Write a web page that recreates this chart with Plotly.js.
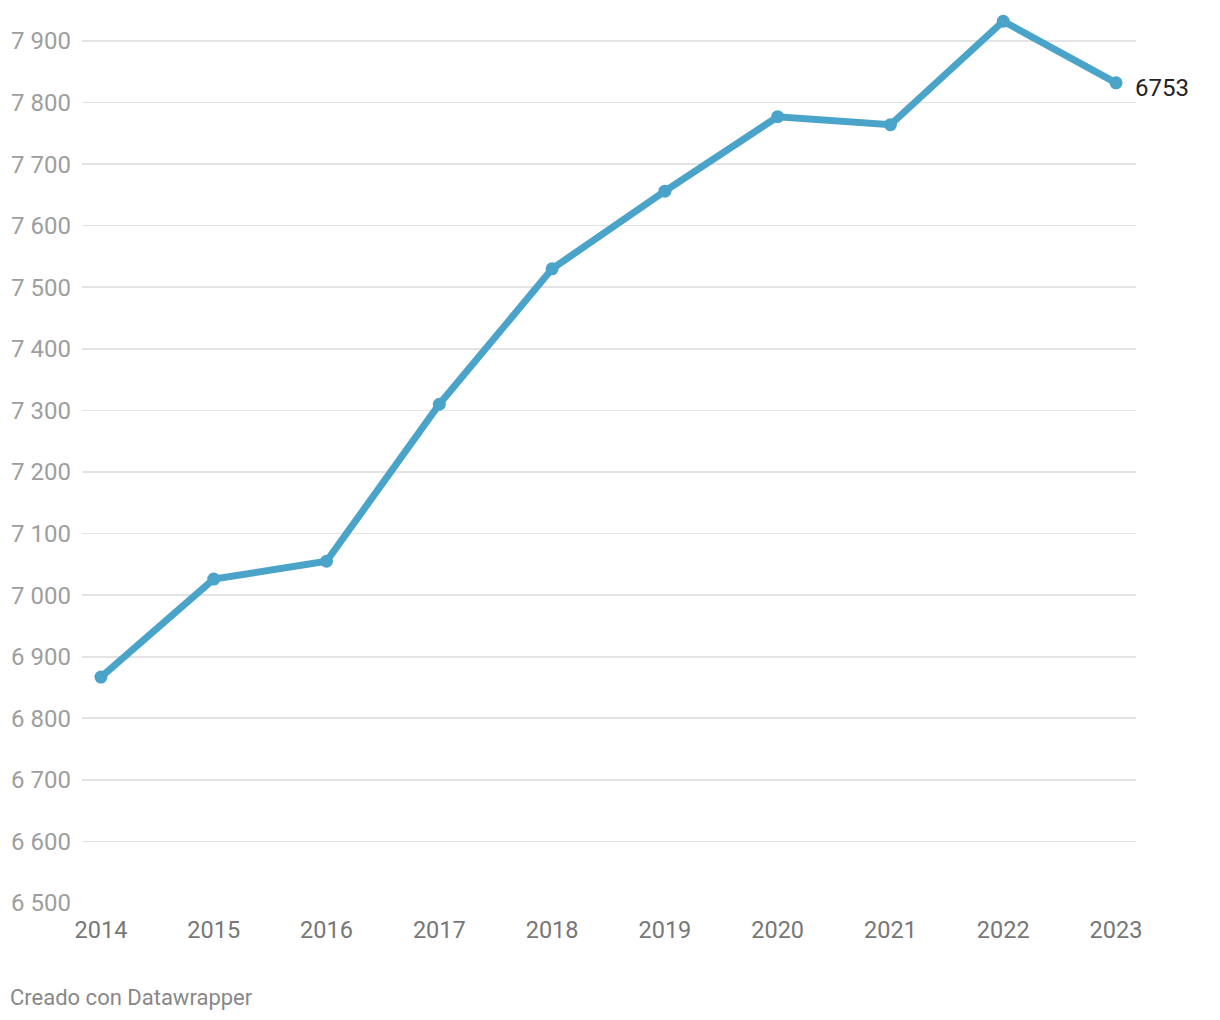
<!DOCTYPE html>
<html>
<head>
<meta charset="utf-8">
<script src="https://cdn.plot.ly/plotly-3.0.1.min.js"></script>
<style>
html,body{margin:0;padding:0;background:#fff;}
#chart{width:1220px;height:1020px;}
</style>
</head>
<body>
<div id="chart"></div>
<script>
const years = [2014, 2015, 2016, 2017, 2018, 2019, 2020, 2021, 2022, 2023];
const values = [6867, 7026, 7055, 7310, 7530, 7656, 7777, 7764, 7932, 7832];
const endLabel = "6753";
const yTicks = [6500, 6600, 6700, 6800, 6900, 7000, 7100, 7200, 7300, 7400, 7500, 7600, 7700, 7800, 7900];
const footer = "Creado con Datawrapper";

const trace = {
  x: years,
  y: values,
  type: 'scatter',
  mode: 'lines+markers',
  line: {color: '#4aa3c8', width: 7},
  marker: {color: '#4aa3c8', size: 13},
  cliponaxis: false,
  hoverinfo: 'x+y'
};

const layout = {
  width: 1220,
  height: 1020,
  margin: {l: 82, r: 84, t: 10, b: 117},
  paper_bgcolor: '#fff',
  plot_bgcolor: '#fff',
  separators: ', ',
  showlegend: false,
  font: {family: 'Roboto, sans-serif'},
  xaxis: {
    range: [2013.832, 2023.177],
    tickvals: years,
    ticktext: years.map(String),
    showgrid: false,
    zeroline: false,
    showline: false,
    ticks: '',
    tickfont: {size: 23.5, color: '#777'},
    ticklabelstandoff: 10
  },
  yaxis: {
    range: [6500, 7950.3],
    tickvals: yTicks,
    tickformat: ',d',
    showgrid: true,
    gridcolor: '#e3e3e3',
    gridwidth: 1.6,
    zeroline: false,
    showline: false,
    ticks: '',
    tickfont: {size: 24, color: '#9e9e9e'},
    ticklabelstandoff: 10
  },
  annotations: [
    {
      x: years[years.length - 1],
      y: values[values.length - 1],
      xref: 'x', yref: 'y',
      text: endLabel,
      showarrow: false,
      xanchor: 'left',
      yanchor: 'middle',
      xshift: 17,
      yshift: -5,
      font: {size: 24, color: '#222', family: 'Roboto, sans-serif'}
    },
    {
      x: 0, y: 0,
      xref: 'paper', yref: 'paper',
      text: footer,
      showarrow: false,
      xanchor: 'left',
      yanchor: 'middle',
      xshift: -74,
      yshift: -94,
      font: {size: 22, color: '#888', family: 'Roboto, sans-serif'}
    }
  ]
};

Plotly.newPlot('chart', [trace], layout, {displayModeBar: false, staticPlot: true});
</script>
</body>
</html>
